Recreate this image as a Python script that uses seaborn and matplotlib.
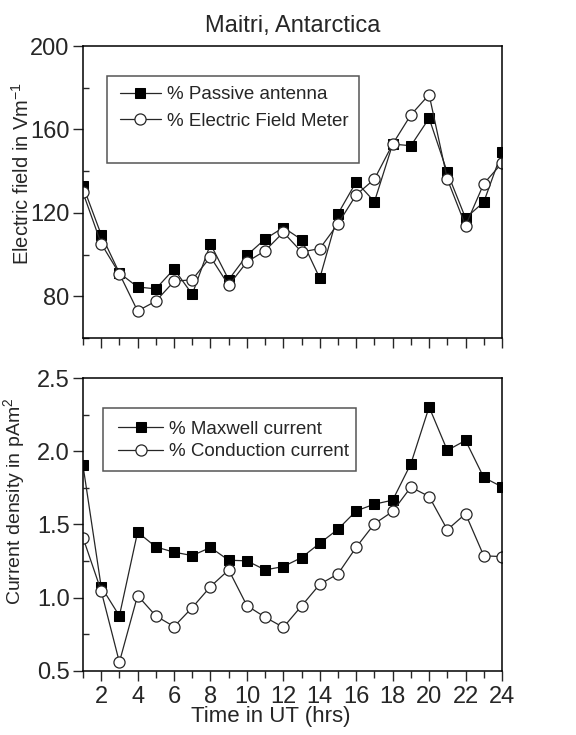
import matplotlib
matplotlib.use("Agg")
import matplotlib.pyplot as plt
import seaborn as sns
import numpy as np
from matplotlib.patches import Rectangle
from matplotlib.ticker import MultipleLocator

# data
hours = list(range(1, 25))
passive_antenna = [133.0, 109.6, 91.2, 84.5, 83.6, 93.1, 81.0, 105.1, 88.0, 99.7, 107.5, 113.0,
                   107.2, 88.7, 119.6, 134.9, 125.4, 153.0, 152.2, 165.4, 139.4, 117.5, 125.2, 149.3]
field_meter = [129.8, 105.3, 90.9, 73.0, 77.7, 87.2, 88.0, 98.9, 85.3, 96.5, 101.9, 110.7,
               101.3, 102.9, 114.8, 128.7, 136.2, 153.0, 167.0, 176.7, 136.2, 113.9, 134.0, 143.9]
maxwell_current = [1.905, 1.076, 0.876, 1.448, 1.347, 1.311, 1.288, 1.343, 1.256, 1.252, 1.190, 1.213,
                   1.274, 1.372, 1.468, 1.593, 1.639, 1.666, 1.915, 2.302, 2.006, 2.074, 1.821, 1.757]
conduction_current = [1.411, 1.047, 0.560, 1.015, 0.876, 0.803, 0.933, 1.076, 1.190, 0.946, 0.867, 0.798,
                      0.944, 1.092, 1.163, 1.345, 1.505, 1.589, 1.755, 1.691, 1.464, 1.573, 1.286, 1.281]

sns.set_style("ticks")
plt.rcParams['font.family'] = ['Liberation Sans', 'DejaVu Sans']
plt.rcParams['mathtext.fontset'] = 'custom'
plt.rcParams['mathtext.rm'] = 'Liberation Sans'
plt.rcParams['mathtext.it'] = 'Liberation Sans'

fig = plt.figure(figsize=(5.76, 7.35), dpi=100)
ax1 = fig.add_axes([0.144, 0.540, 0.7275, 0.3974])
ax2 = fig.add_axes([0.144, 0.0871, 0.7275, 0.3986])

line_c = '#262626'
sq = dict(marker='s', color=line_c, lw=0.9, ms=6.5, mfc='black', mec='black')
ci = dict(marker='o', color=line_c, lw=0.9, ms=8, mfc='white', mec=line_c, mew=0.9)

sns.lineplot(x=hours, y=passive_antenna, ax=ax1, label='% Passive antenna', **sq)
sns.lineplot(x=hours, y=field_meter, ax=ax1, label='% Electric Field Meter', **ci)
sns.lineplot(x=hours, y=maxwell_current, ax=ax2, label='% Maxwell current', **sq)
sns.lineplot(x=hours, y=conduction_current, ax=ax2, label='% Conduction current', **ci)

ax1.set_xlim(1, 24)
ax1.set_ylim(60, 200)
ax1.set_yticks([80, 120, 160, 200])
ax1.yaxis.set_minor_locator(MultipleLocator(20))
ax1.set_xticks(range(2, 25, 2))
ax1.xaxis.set_minor_locator(MultipleLocator(1))
ax1.set_xticklabels([])
ax1.set_title('Maitri, Antarctica', fontsize=17, pad=10)
ax1.set_ylabel('Electric field in Vm$^{-1}$', fontsize=14.5)
ax1.yaxis.set_label_coords(-0.119, 0.565)
ax1.set_xlabel('')

ax2.set_xlim(1, 24)
ax2.set_ylim(0.5, 2.5)
ax2.set_yticks([0.5, 1.0, 1.5, 2.0, 2.5])
ax2.yaxis.set_minor_locator(MultipleLocator(0.25))
ax2.set_xticks(range(2, 25, 2))
ax2.xaxis.set_minor_locator(MultipleLocator(1))
ax2.set_yticklabels(['0.5', '1.0', '1.5', '2.0', '2.5'])
ax2.set_xlabel('Time in UT (hrs)', fontsize=16)
ax2.xaxis.set_label_coords(0.449, -0.118)
ax2.set_ylabel('Current density in pAm$^{2}$', fontsize=14)
ax2.yaxis.set_label_coords(-0.134, 0.58)

for ax in (ax1, ax2):
    for s in ax.spines.values():
        s.set_visible(True)
        s.set_linewidth(1.1)
        s.set_color('black')
    ax.tick_params(axis='both', which='major', labelsize=17, length=7.5, width=1, direction='out', pad=2)
    ax.tick_params(axis='x', which='major', pad=3)
    ax.tick_params(axis='x', which='minor', length=5, width=1, direction='out')
    ax.tick_params(axis='y', which='minor', length=4, width=1, direction='in')
    ax.grid(False)

# legend frames (drawn larger than the entries, as in the figure)
ax1.add_patch(Rectangle((0.057, 0.599), 0.602, 0.298, transform=ax1.transAxes,
                        fill=False, ec='#555555', lw=1.1, zorder=5))
ax2.add_patch(Rectangle((0.048, 0.683), 0.604, 0.215, transform=ax2.transAxes,
                        fill=False, ec='#555555', lw=1.1, zorder=5))

ax1.legend(loc='upper left', bbox_to_anchor=(0.088, 0.862), frameon=False, fontsize=13.5,
           handlelength=2.2, handletextpad=0.3, labelspacing=0.5, borderpad=0, borderaxespad=0)
ax2.legend(loc='upper left', bbox_to_anchor=(0.084, 0.855), frameon=False, fontsize=13.5,
           handlelength=2.4, handletextpad=0.3, labelspacing=0.3, borderpad=0, borderaxespad=0)

fig.savefig('out.png', dpi=100)
